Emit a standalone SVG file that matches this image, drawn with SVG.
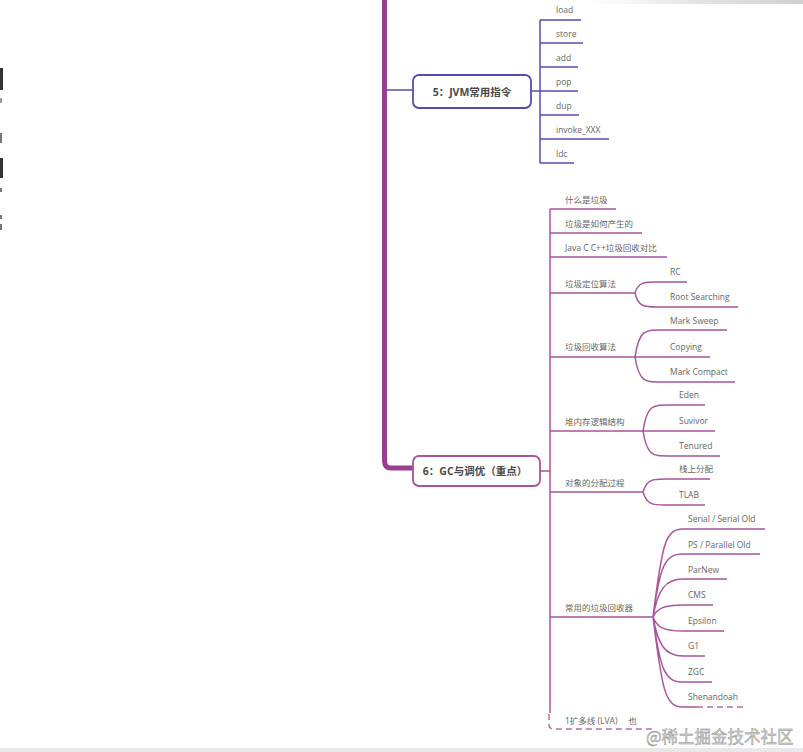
<svg xmlns="http://www.w3.org/2000/svg" width="803" height="752" viewBox="0 0 803 752">
<defs>
<linearGradient id="shade" x1="0" y1="0" x2="1" y2="0">
<stop offset="0" stop-color="#d8d8d8" stop-opacity="0"/>
<stop offset="0.5" stop-color="#c4c4c4" stop-opacity="0.45"/>
<stop offset="1" stop-color="#b0b0b0" stop-opacity="0.6"/>
</linearGradient>
</defs>
<style>
.lbl{font-family:"Open Sans","Noto Sans CJK SC",sans-serif;font-size:8.5px;fill:#666}
.main{font-family:"Open Sans","Noto Sans CJK SC",sans-serif;font-size:10.5px;font-weight:bold;fill:#4a4a4a}
.ind{fill:none;stroke:#5a4cae;stroke-width:1.5}
.pur{fill:none;stroke:#a8559a;stroke-width:1.5}
.trunk{fill:none;stroke:#9a3f8f;stroke-width:5}
.dash{fill:none;stroke:#b070a6;stroke-width:1.5;stroke-dasharray:6 4}
.wm{font-family:"Noto Sans CJK SC",sans-serif;font-size:16.5px;fill:#d4d4d4;stroke:#8a8a8a;stroke-width:0.4}
</style>
<rect width="803" height="752" fill="#ffffff"/>
<rect x="583" y="0" width="220" height="4" fill="url(#shade)"/>
<rect x="0" y="748" width="803" height="4" fill="#e8e8e8"/>
<g id="edge-fragments" fill="#333">
<rect x="0" y="68" width="3" height="22"/>
<rect x="0" y="98" width="2" height="5" fill="#999"/>
<rect x="0" y="133" width="2" height="10" fill="#777"/>
<rect x="0" y="158" width="3" height="20"/>
<rect x="0" y="188" width="2" height="4" fill="#777"/>
<rect x="0" y="215" width="2" height="4" fill="#777"/>
<rect x="0" y="224" width="2" height="6" fill="#777"/>
</g>
<g id="connectors">
<path class="trunk" d="M384.5 0 V461 Q384.5 468 391 468 H413"/>
<path class="ind" d="M386 90 H413"/>
<path class="ind" d="M531 91 H540"/>
<path class="ind" d="M540 20 V163"/>
<path class="ind" d="M540 20 H581 M540 43 H583 M540 67 H578 M540 91 H578 M540 115 H579 M540 139 H609 M540 163 H574"/>
<path class="pur" d="M540 471 H550"/>
<path class="pur" d="M550 209 V713"/>
<path class="pur" d="M550 209 H616 M550 233 H642 M550 257 H667 M550 293 H635 M550 357 H635 M550 431 H643 M550 492 H643 M550 617 H653"/>
<path class="pur" d="M635 293 C638 282 645 282 657 282 H687 M635 293 C638 307 645 307 657 307 H738"/>
<path class="pur" d="M635 357 C639 330 645 330 660 330 H727 M635 357 H710 M635 357 C639 382 645 382 660 382 H735"/>
<path class="pur" d="M643 431 C647 405 653 405 668 405 H705 M643 431 H715 M643 431 C647 456 653 456 668 456 H720"/>
<path class="pur" d="M643 492 C647 479 653 479 665 479 H710 M643 492 C647 505 653 505 665 505 H705"/>
<path class="pur" d="M653 617 C662 545 665 529 683 529 H765 M653 617 C660 565 665 554 683 554 H760 M653 617 C658 590 665 579 683 579 H727 M653 617 C657 608 665 605 683 605 H713 M653 617 C657 628 665 631 683 631 H724 M653 617 C658 645 665 656 683 656 H705 M653 617 C660 670 665 682 683 682 H712 M653 617 C662 690 665 707 683 707 H697"/>
<path class="dash" d="M697 707 H746"/>
<path class="dash" d="M549 714 V725 Q549 729 554 729 H655"/>
</g>
<g id="node5">
<rect x="413" y="75" width="118" height="33" rx="6" fill="#fff" stroke="#5a4cae" stroke-width="1.8"/>
<text class="main" x="472" y="95.5" text-anchor="middle">5：JVM常用指令</text>
</g>
<g id="n5-load"><text class="lbl" x="556" y="13">load</text></g>
<g id="n5-store"><text class="lbl" x="556" y="37">store</text></g>
<g id="n5-add"><text class="lbl" x="556" y="61">add</text></g>
<g id="n5-pop"><text class="lbl" x="556" y="85">pop</text></g>
<g id="n5-dup"><text class="lbl" x="556" y="109">dup</text></g>
<g id="n5-invoke"><text class="lbl" x="556" y="133">invoke_XXX</text></g>
<g id="n5-ldc"><text class="lbl" x="556" y="157">ldc</text></g>
<g id="node6">
<rect x="413" y="456" width="127" height="30" rx="6" fill="#fff" stroke="#a8559a" stroke-width="1.8"/>
<text class="main" x="475" y="475" text-anchor="middle">6：GC与调优（重点）</text>
</g>
<g id="n6-what"><text class="lbl" x="565" y="203">什么是垃圾</text></g>
<g id="n6-how"><text class="lbl" x="565" y="227">垃圾是如何产生的</text></g>
<g id="n6-compare"><text class="lbl" x="565" y="251">Java C C++垃圾回收对比</text></g>
<g id="n6-locate"><text class="lbl" x="565" y="287">垃圾定位算法</text></g>
<g id="n6-rc"><text class="lbl" x="670" y="275">RC</text></g>
<g id="n6-root"><text class="lbl" x="670" y="300">Root Searching</text></g>
<g id="n6-collect"><text class="lbl" x="565" y="350">垃圾回收算法</text></g>
<g id="n6-sweep"><text class="lbl" x="670" y="324">Mark Sweep</text></g>
<g id="n6-copy"><text class="lbl" x="670" y="350">Copying</text></g>
<g id="n6-compact"><text class="lbl" x="670" y="375">Mark Compact</text></g>
<g id="n6-heap"><text class="lbl" x="565" y="425">堆内存逻辑结构</text></g>
<g id="n6-eden"><text class="lbl" x="679" y="398">Eden</text></g>
<g id="n6-suv"><text class="lbl" x="679" y="424">Suvivor</text></g>
<g id="n6-ten"><text class="lbl" x="679" y="449">Tenured</text></g>
<g id="n6-alloc"><text class="lbl" x="565" y="486">对象的分配过程</text></g>
<g id="n6-stack"><text class="lbl" x="679" y="472">栈上分配</text></g>
<g id="n6-tlab"><text class="lbl" x="679" y="498">TLAB</text></g>
<g id="n6-gcs"><text class="lbl" x="565" y="611">常用的垃圾回收器</text></g>
<g id="n6-serial"><text class="lbl" x="688" y="522">Serial / Serial Old</text></g>
<g id="n6-ps"><text class="lbl" x="688" y="548">PS / Parallel Old</text></g>
<g id="n6-parnew"><text class="lbl" x="688" y="573">ParNew</text></g>
<g id="n6-cms"><text class="lbl" x="688" y="598">CMS</text></g>
<g id="n6-eps"><text class="lbl" x="688" y="624">Epsilon</text></g>
<g id="n6-g1"><text class="lbl" x="688" y="649">G1</text></g>
<g id="n6-zgc"><text class="lbl" x="688" y="675">ZGC</text></g>
<g id="n6-shen"><text class="lbl" x="688" y="700">Shenandoah</text></g>
<g id="n6-last"><text class="lbl" x="565" y="724" fill="#888">1扩多线 (LVA)　 也</text></g>
<g id="watermark"><text class="wm" x="646" y="743">@稀土掘金技术社区</text></g>
</svg>
